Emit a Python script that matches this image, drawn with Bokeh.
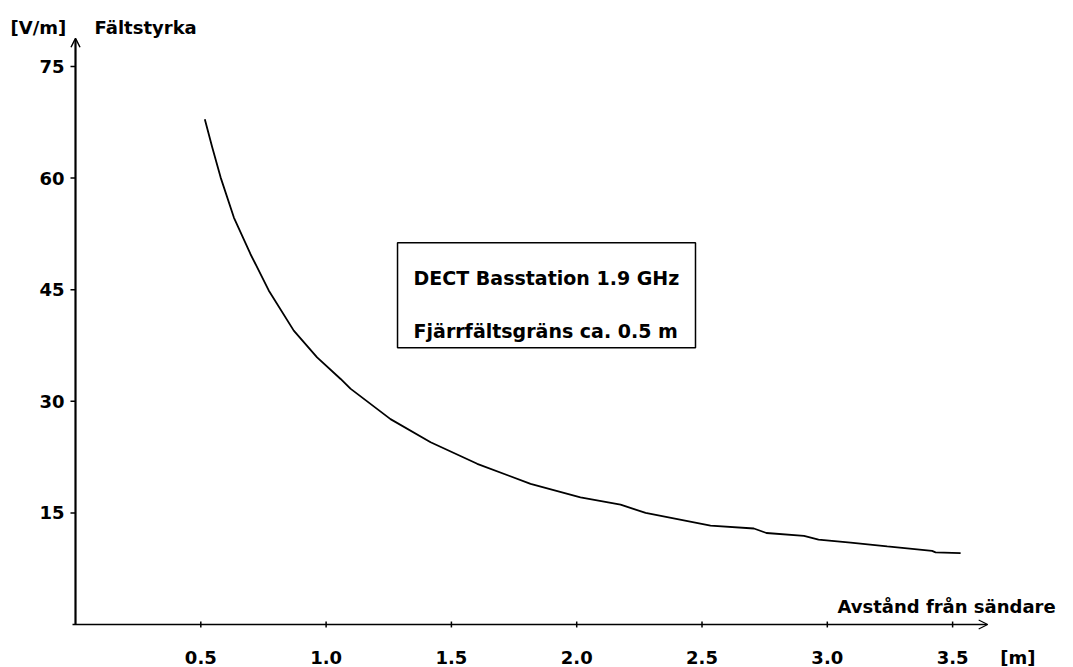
from bokeh.plotting import figure
from bokeh.models import Range1d, Arrow, OpenHead, Label, BoxAnnotation, ColumnDataSource
from bokeh.core.properties import value
from bokeh.embed import file_html
from bokeh.resources import INLINE

# ---- data ----
distance_m = [0.516, 0.545, 0.579, 0.632, 0.698, 0.771, 0.871, 0.964, 1.058, 1.097,
              1.257, 1.417, 1.603, 1.816, 2.015, 2.175, 2.275, 2.534, 2.707, 2.757,
              2.907, 2.965, 3.093, 3.239, 3.418, 3.432, 3.532]
field_vm = [67.9, 64.2, 60.1, 54.7, 49.8, 44.9, 39.5, 35.9, 33.0, 31.7,
            27.6, 24.5, 21.6, 18.9, 17.1, 16.1, 15.0, 13.3, 12.9, 12.3,
            11.9, 11.4, 11.0, 10.5, 9.9, 9.7, 9.6]
x_ticks = [0.5, 1.0, 1.5, 2.0, 2.5, 3.0, 3.5]
x_tick_labels = ["0.5", "1.0", "1.5", "2.0", "2.5", "3.0", "3.5"]
y_ticks = [15, 30, 45, 60, 75]
y_tick_labels = ["15", "30", "45", "60", "75"]
y_unit = "[V/m]"
y_title = "Fältstyrka"
x_title = "Avstånd från sändare"
x_unit = "[m]"
legend_lines = ["DECT Basstation 1.9 GHz", "Fjärrfältsgräns ca. 0.5 m"]

FONT = "DejaVu Sans"
FSIZE = "18px"
BOX_FSIZE = "19px"

# plot frame covers the whole page; axes are drawn inside it
p = figure(width=1073, height=667, output_backend="svg", toolbar_location=None,
           x_range=Range1d(-0.2993, 3.9824), y_range=Range1d(-5.78, 83.87),
           x_axis_location=None, y_axis_location=None, min_border=0)
p.outline_line_color = None
p.grid.visible = False
p.background_fill_color = "white"
p.border_fill_color = "white"

# curve
p.line(distance_m, field_vm, line_color="black", line_width=1.8)

# axis lines with arrow heads
Y_AXIS_TOP = 78.8
X_AXIS_START = -0.012
X_AXIS_END = 3.64
p.add_layout(Arrow(end=OpenHead(size=9, line_width=1.5, line_color="black"),
                   x_start=0, y_start=0, x_end=0, y_end=Y_AXIS_TOP,
                   line_color="black", line_width=2.2))
p.add_layout(Arrow(end=OpenHead(size=9, line_width=1.2, line_color="black"),
                   x_start=X_AXIS_START, y_start=0, x_end=X_AXIS_END, y_end=0,
                   line_color="black", line_width=1.6))

# ticks
YT_LEN = 0.02      # ~5 px in x units
XT_HALF = 0.4      # ~3 px in y units
ysrc = ColumnDataSource(dict(y=y_ticks, lab=y_tick_labels,
                             x0=[-YT_LEN] * len(y_ticks), x1=[0] * len(y_ticks),
                             xl=[-0.044] * len(y_ticks)))
p.segment(x0="x0", y0="y", x1="x1", y1="y", source=ysrc, line_color="black", line_width=1.5)
p.text(x="xl", y="y", text="lab", source=ysrc, text_font=value(FONT),
       text_font_size=FSIZE, text_font_style="bold", text_color="black",
       text_align="right", text_baseline="middle")

xsrc = ColumnDataSource(dict(x=x_ticks, lab=x_tick_labels,
                             y0=[-XT_HALF] * len(x_ticks), y1=[XT_HALF] * len(x_ticks),
                             yl=[-4.44] * len(x_ticks)))
p.segment(x0="x", y0="y0", x1="x", y1="y1", source=xsrc, line_color="black", line_width=1.5)
p.text(x="x", y="yl", text="lab", source=xsrc, text_font=value(FONT),
       text_font_size=FSIZE, text_font_style="bold", text_color="black",
       text_align="center", text_baseline="alphabetic")


def lab(x, y, text, align="left", size=FSIZE):
    p.add_layout(Label(x=x, y=y, text=text, text_font=FONT, text_font_size=size,
                       text_font_style="bold", text_color="black",
                       text_align=align, text_baseline="alphabetic"))


lab(-0.259, 80.24, y_unit)
lab(0.076, 80.24, y_title)
lab(3.911, 2.42, x_title, "right")
lab(3.69, -4.44, x_unit)

# legend box
p.add_layout(BoxAnnotation(left=1.285, right=2.474, bottom=37.2, top=51.3,
                           fill_color=None, fill_alpha=0, line_color="black",
                           line_alpha=1.0, line_width=1.5))
lab(1.349, 46.6, legend_lines[0], size=BOX_FSIZE)
lab(1.349, 39.5, legend_lines[1], size=BOX_FSIZE)

open("out.html", "w").write(file_html(p, INLINE))
